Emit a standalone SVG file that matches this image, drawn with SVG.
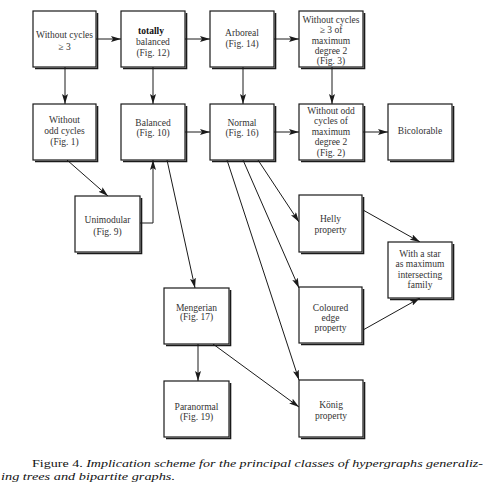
<svg xmlns="http://www.w3.org/2000/svg" width="491" height="495" viewBox="0 0 491 495">
<defs>
<style>
.box{fill:#fff;stroke:#1a1a1a;stroke-width:1.2}
.sh{fill:none;stroke:#1a1a1a;stroke-width:1.6}
.t{font-family:'Liberation Serif','DejaVu Serif',serif;font-size:9.5px;fill:#333;text-anchor:middle}
.b{font-weight:bold;fill:#111}
.c{fill:none;stroke:#1a1a1a;stroke-width:1;marker-end:url(#ah)}
.cap{font-family:'Liberation Serif','DejaVu Serif',serif;font-size:11px;fill:#111}
</style>
<marker id="ah" viewBox="0 0 10 6" refX="10" refY="3" markerWidth="10" markerHeight="6" markerUnits="userSpaceOnUse" orient="auto">
<path d="M0,0 L10,3 L0,6 L2,3 z" fill="#1a1a1a"/>
</marker>
</defs>
<rect width="491" height="495" fill="#fff"/>
<g id="connectors">
<path class="c" d="M96,39 H121"/>
<path class="c" d="M185,39 H210"/>
<path class="c" d="M274,39 H299"/>
<path class="c" d="M65,67 V104"/>
<path class="c" d="M153,67 V104"/>
<path class="c" d="M243,67 V104"/>
<path class="c" d="M332,67 V104"/>
<path class="c" d="M185,132 H210"/>
<path class="c" d="M274,132 H299"/>
<path class="c" d="M363,132 H388"/>
<path class="c" d="M67,160 L108,196"/>
<path class="c" d="M140,223 H153 V160"/>
<path class="c" d="M167,160 L195,288"/>
<path class="c" d="M258,160 L299,222"/>
<path class="c" d="M243,160 L299,288"/>
<path class="c" d="M227,160 L299,380"/>
<path class="c" d="M363,210 L420,242"/>
<path class="c" d="M363,330 L420,298"/>
<path class="c" d="M198,344 V381"/>
<path class="c" d="M213,344 L299,407"/>
</g>
<g font-family="Liberation Serif, DejaVu Serif, serif">
<g id="n-cycles3">
<rect class="box" x="33" y="11" width="63" height="56"/><path class="sh" d="M97.5,13 V68.5 H35"/>
<text class="t" x="64.5" y="38">Without cycles</text><text class="t" x="64.5" y="50">≥ 3</text>
</g>
<g id="n-totally">
<rect class="box" x="121" y="11" width="64" height="56"/><path class="sh" d="M186.5,13 V68.5 H123"/>
<text class="t b" x="151" y="33.5">totally</text><text class="t" x="153" y="44.5">balanced</text><text class="t" x="153" y="55.5">(Fig. 12)</text>
</g>
<g id="n-arboreal">
<rect class="box" x="210" y="11" width="64" height="56"/><path class="sh" d="M275.5,13 V68.5 H212"/>
<text class="t" x="242" y="35.5">Arboreal</text><text class="t" x="242" y="46.5">(Fig. 14)</text>
</g>
<g id="n-cycles3deg2">
<rect class="box" x="299" y="11" width="64" height="56"/><path class="sh" d="M364.5,13 V68.5 H301"/>
<text class="t" x="331" y="22.5">Without cycles</text><text class="t" x="331" y="33">≥ 3 of</text><text class="t" x="331" y="43.5">maximum</text><text class="t" x="331" y="54">degree 2</text><text class="t" x="331" y="64">(Fig. 3)</text>
</g>
<g id="n-oddcycles">
<rect class="box" x="33" y="104" width="63" height="56"/><path class="sh" d="M97.5,106 V161.5 H35"/>
<text class="t" x="64.5" y="122.5">Without</text><text class="t" x="64.5" y="133.5">odd cycles</text><text class="t" x="64.5" y="144.5">(Fig. 1)</text>
</g>
<g id="n-balanced">
<rect class="box" x="121" y="104" width="64" height="56"/><path class="sh" d="M186.5,106 V161.5 H123"/>
<text class="t" x="153" y="125.5">Balanced</text><text class="t" x="153" y="136">(Fig. 10)</text>
</g>
<g id="n-normal">
<rect class="box" x="210" y="104" width="64" height="56"/><path class="sh" d="M275.5,106 V161.5 H212"/>
<text class="t" x="242" y="125.5">Normal</text><text class="t" x="242" y="136">(Fig. 16)</text>
</g>
<g id="n-odddeg2">
<rect class="box" x="299" y="104" width="64" height="56"/><path class="sh" d="M364.5,106 V161.5 H301"/>
<text class="t" x="331" y="113.5">Without odd</text><text class="t" x="331" y="124">cycles of</text><text class="t" x="331" y="134.5">maximum</text><text class="t" x="331" y="145">degree 2</text><text class="t" x="331" y="155.5">(Fig. 2)</text>
</g>
<g id="n-bicolorable">
<rect class="box" x="388" y="104" width="64" height="56"/><path class="sh" d="M453.5,106 V161.5 H390"/>
<text class="t" x="420" y="133.5">Bicolorable</text>
</g>
<g id="n-unimodular">
<rect class="box" x="75" y="196" width="65" height="56"/><path class="sh" d="M141.5,198 V253.5 H77"/>
<text class="t" x="107.5" y="222.5">Unimodular</text><text class="t" x="107.5" y="235">(Fig. 9)</text>
</g>
<g id="n-helly">
<rect class="box" x="299" y="195" width="63" height="57"/><path class="sh" d="M363.5,197 V253.5 H301"/>
<text class="t" x="330.5" y="221.5">Helly</text><text class="t" x="330.5" y="232.5">property</text>
</g>
<g id="n-star">
<rect class="box" x="388" y="242" width="64" height="56"/><path class="sh" d="M453.5,244 V299.5 H390"/>
<text class="t" x="420" y="256.5">With a star</text><text class="t" x="420" y="267">as maximum</text><text class="t" x="420" y="277.5">intersecting</text><text class="t" x="420" y="288">family</text>
</g>
<g id="n-coloured">
<rect class="box" x="299" y="287" width="63" height="56"/><path class="sh" d="M363.5,289 V344.5 H301"/>
<text class="t" x="330.5" y="310.5">Coloured</text><text class="t" x="330.5" y="320.5">edge</text><text class="t" x="330.5" y="331">property</text>
</g>
<g id="n-mengerian">
<rect class="box" x="164" y="288" width="65" height="56"/><path class="sh" d="M230.5,290 V345.5 H166"/>
<text class="t" x="196.5" y="310.5">Mengerian</text><text class="t" x="196.5" y="320">(Fig. 17)</text>
</g>
<g id="n-paranormal">
<rect class="box" x="164" y="381" width="65" height="56"/><path class="sh" d="M230.5,383 V438.5 H166"/>
<text class="t" x="196.5" y="409.5">Paranormal</text><text class="t" x="196.5" y="419.5">(Fig. 19)</text>
</g>
<g id="n-konig">
<rect class="box" x="299" y="380" width="64" height="57"/><path class="sh" d="M364.5,382 V438.5 H301"/>
<text class="t" x="331" y="407.5">König</text><text class="t" x="331" y="418.5">property</text>
</g>
<g id="caption">
<text class="cap" x="32" y="467" textLength="451" lengthAdjust="spacingAndGlyphs">Figure 4. <tspan font-style="italic">Implication scheme for the principal classes of hypergraphs generaliz-</tspan></text>
<text class="cap" x="1" y="480" font-style="italic" textLength="174" lengthAdjust="spacingAndGlyphs">ing trees and bipartite graphs.</text>
</g>
</g>
</svg>
